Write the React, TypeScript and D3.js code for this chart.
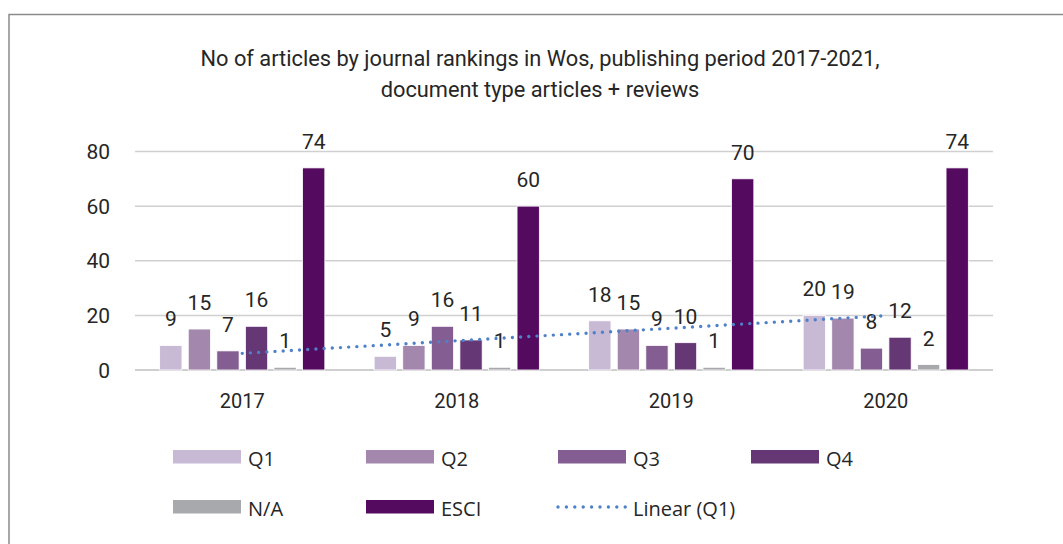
import React from "react";
import * as d3 from "d3";

const years = ["2017", "2018", "2019", "2020"];
const seriesNames = ["Q1", "Q2", "Q3", "Q4", "N/A", "ESCI"];
const q1 = [9, 5, 18, 20];
const q2 = [15, 9, 15, 19];
const q3 = [7, 16, 9, 8];
const q4 = [16, 11, 10, 12];
const na = [1, 1, 1, 2];
const esci = [74, 60, 70, 74];
const seriesValues = [q1, q2, q3, q4, na, esci];
const colors = ["#c8b9d5", "#a387ad", "#845e92", "#663775", "#a8a9ac", "#540a5e"];
const yTicks = [0, 20, 40, 60, 80];
const titleLines = [
  "No of articles by journal rankings in Wos, publishing period 2017-2021,",
  "document type articles + reviews",
];

const W = 1063;
const H = 544;
const FONT = "Roboto, 'Noto Sans', sans-serif";
const LEGEND_FONT = "'Open Sans', Roboto, sans-serif";
const TEXT = "#262626";

export default function App() {
  const left = 135;
  const right = 993;
  const x0 = d3.scaleBand<string>().domain(years).range([left, right]).padding(0);
  const bw = x0.bandwidth();
  const x1 = d3
    .scaleBand<string>()
    .domain(seriesNames)
    .range([bw * 0.115, bw * 0.885])
    .paddingInner(0.22)
    .paddingOuter(0);
  const y = d3.scaleLinear().domain([0, 80]).range([370, 151.5]);

  // Linear trendline of Q1 (least squares over category index 1..n)
  const xs = q1.map((_, i) => i + 1);
  const mx = d3.mean(xs) as number;
  const my = d3.mean(q1) as number;
  const slope =
    d3.sum(xs.map((xv, i) => (xv - mx) * (q1[i] - my))) /
    d3.sum(xs.map((xv) => (xv - mx) * (xv - mx)));
  const intercept = my - slope * mx;
  const trendPts: [number, number][] = [
    [(x0(years[0]) as number) + bw / 2, y(intercept + slope * 1)],
    [(x0(years[years.length - 1]) as number) + bw / 2, y(intercept + slope * years.length)],
  ];
  const line = d3.line();

  const legendItems = [
    { name: "Q1", color: colors[0], x: 173, y: 450 },
    { name: "Q2", color: colors[1], x: 366, y: 450 },
    { name: "Q3", color: colors[2], x: 558, y: 450 },
    { name: "Q4", color: colors[3], x: 751, y: 450 },
    { name: "N/A", color: colors[4], x: 173, y: 500 },
    { name: "ESCI", color: colors[5], x: 366, y: 500 },
  ];

  return (
    <svg
      width={W}
      height={H}
      style={{ position: "absolute", left: 0, top: 0, background: "#fff" }}
      fontFamily={FONT}
    >
      <rect x={9} y={14.5} width={W + 20} height={H + 20} fill="#fff" stroke="#8a8a8a" strokeWidth={1.5} />
      {titleLines.map((t, i) => (
        <text key={i} x={540} y={66 + i * 31} textAnchor="middle" fontSize={21.8} fill={TEXT}>
          {t}
        </text>
      ))}
      {yTicks.map((t) => (
        <g key={t}>
          <line x1={left} x2={right} y1={y(t)} y2={y(t)} stroke={t === 0 ? "#bfbfbf" : "#d0d0d0"} strokeWidth={1.5} />
          <text x={110} y={y(t) + 7.5} textAnchor="end" fontSize={21} fill={TEXT}>
            {t}
          </text>
        </g>
      ))}
      {years.map((yr, gi) => (
        <g key={yr} transform={`translate(${x0(yr)},0)`}>
          {seriesNames.map((s, si) => {
            const v = seriesValues[si][gi];
            const bx = x1(s) as number;
            return (
              <g key={s}>
                <rect
                  x={bx}
                  y={y(v)}
                  width={x1.bandwidth()}
                  height={y(0) - y(v)}
                  fill={colors[si]}
                  stroke="#fff"
                  strokeWidth={0.8}
                />
                <text x={bx + x1.bandwidth() / 2} y={y(v) - 19} textAnchor="middle" fontSize={21} fill={TEXT}>
                  {v}
                </text>
              </g>
            );
          })}
          <text x={bw / 2} y={408} textAnchor="middle" fontSize={20} fill={TEXT}>
            {yr}
          </text>
        </g>
      ))}
      <path
        d={line(trendPts) || ""}
        fill="none"
        stroke="#4f81c9"
        strokeWidth={3.4}
        strokeLinecap="round"
        strokeDasharray="0 8.2"
      />
      {legendItems.map((l) => (
        <g key={l.name}>
          <rect x={l.x} y={l.y} width={68} height={13.5} fill={l.color} />
          <text x={l.x + 75} y={l.y + 16} fontSize={20} fill={TEXT} fontFamily={LEGEND_FONT}>
            {l.name}
          </text>
        </g>
      ))}
      <line
        x1={558}
        x2={626}
        y1={507}
        y2={507}
        stroke="#4f81c9"
        strokeWidth={3.4}
        strokeLinecap="round"
        strokeDasharray="0 8.4"
      />
      <text x={633} y={516} fontSize={20} fill={TEXT} fontFamily={LEGEND_FONT}>
        Linear (Q1)
      </text>
    </svg>
  );
}
